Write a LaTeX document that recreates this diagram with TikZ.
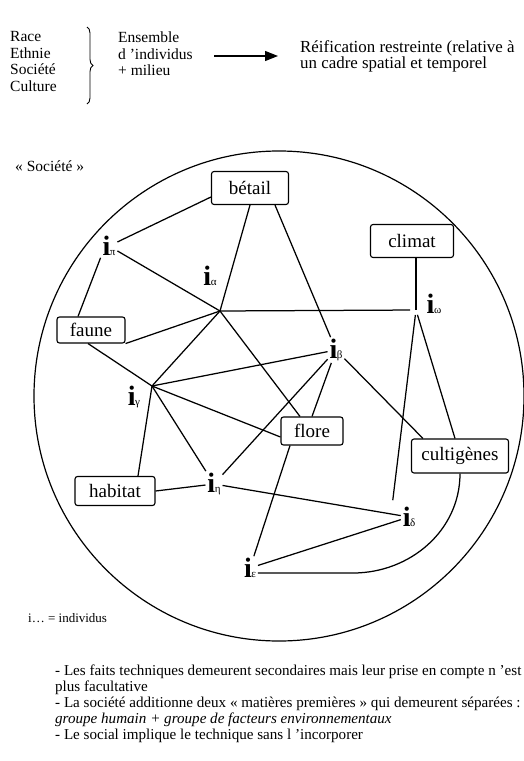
\documentclass[tikz,border=0pt]{standalone}
\usepackage{fontspec}
\setmainfont{Liberation Serif}
\usetikzlibrary{arrows.meta,decorations.pathreplacing,calc}
\newcommand\indiv[1]{{\fontsize{28}{28}\selectfont\bfseries i}\kern-0.5pt{\fontsize{11}{11}\selectfont #1}}
\begin{document}
\begin{tikzpicture}[x=1pt,y=-1pt,
  box/.style={draw, line width=1.1pt, rounded corners=2.5pt, inner sep=0pt, font=\fontsize{19}{19}\selectfont},
  ilab/.style={inner sep=0pt, outer sep=2pt},
  edge/.style={line width=1.25pt},
  txt/.style={inner sep=0pt, anchor=west, align=left}]
\useasboundingbox[fill=white] (0,0) rectangle (524,761);

% ---- header ----
\node[txt, anchor=north west, font=\fontsize{15.5}{16.8}\selectfont] (terms) at (10,31) {Race\\Ethnie\\Société\\Culture};
\coordinate (brtop) at (87,27);
\coordinate (brbot) at (87,104);
\draw[line width=0.9pt, decorate, decoration={brace, amplitude=6pt}] (brtop) -- (brbot);
\node[txt, anchor=north west, font=\fontsize{15.5}{16.5}\selectfont] (ens) at (118,32) {Ensemble\\d ’individus\\+ milieu};
\coordinate (ar1) at (214,56);
\coordinate (ar2) at (278,56);
\draw[line width=1.2pt, -{Triangle[length=13pt,width=10pt]}] (ar1) -- (ar2);
\node[txt, anchor=north west, font=\fontsize{16.9}{16.5}\selectfont] (reif) at (300,40) {Réification restreinte (relative à\\un cadre spatial et temporel};

% ---- society circle ----
\node[txt, font=\fontsize{15.5}{15.5}\selectfont] (soc) at (15,166) {« Société »};
\node[draw, circle, line width=1.2pt, minimum size=490pt, inner sep=0pt] (circ) at (279,396) {};

% boxes
\node[box, minimum width=77pt, minimum height=33pt] (bet) at (250,188) {bétail};
\node[box, minimum width=83pt, minimum height=33pt] (cli) at (412,241) {climat};
\node[box, minimum width=68pt, minimum height=26pt] (fau) at (91,330) {faune};
\node[box, minimum width=62pt, minimum height=28pt] (flo) at (312,431) {flore};
\node[box, minimum width=97pt, minimum height=34pt] (cul) at (460,456) {cultigènes};
\node[box, minimum width=80pt, minimum height=29pt] (hab) at (115,491) {habitat};

% individus labels
\node[ilab] (lpi) at (109,246) {\indiv{π}};
\node[ilab] (lal) at (210,276) {\indiv{α}};
\node[ilab] (lbe) at (336,350) {\indiv{β}};
\node[ilab] (lga) at (134,397) {\indiv{γ}};
\node[ilab] (let) at (214,484) {\indiv{η}};
\node[ilab] (lde) at (409,517) {\indiv{δ}};
\node[ilab] (lep) at (250,568) {\indiv{ε}};
\node[ilab] (lom) at (434,304) {\indiv{ω}};

% hubs
\coordinate (ha) at (220,311);
\coordinate (hg) at (152,386);
\coordinate (ho) at (416,310);

% connectors
\draw[edge] ([yshift=-9pt]bet.west) -- (lpi);
\draw[edge] (lpi) -- (ha);
\draw[edge] ([xshift=-13pt]fau.north) -- (lpi.south west);
\draw[edge] (bet.south) -- (ha);
\draw[edge] ([xshift=25pt]bet.south) -- (lbe);
\draw[edge] (fau.south east) -- (ha);
\draw[edge] ([xshift=-3pt]fau.south) -- (hg);
\draw[edge, shorten >=6pt] (ha) -- (ho);
\draw[edge] (ha) -- (hg);
\draw[edge] (ha) -- ([xshift=-12pt]flo.north);
\draw[edge] (hg) -- (lbe);
\draw[edge] (hg) -- ([yshift=-6pt]flo.west);
\draw[edge] (hg) -- (let);
\draw[edge] (hg) -- ([xshift=23pt]hab.north);
\draw[edge] (lbe) -- (let);
\draw[edge] (lbe) -- (flo.north);
\draw[edge] (lbe) -- ([xshift=12pt]cul.north west);
\draw[edge] (hab.east) -- (let);
\draw[edge] (let) -- (lde);
\draw[edge] ([xshift=-22pt]flo.south) -- (lep);
\draw[edge] (lde) -- (lep);
\draw[edge] ([yshift=-5pt]lep.east) -- ++(95,0) to[out=0,in=-90] (cul.south);
\draw[edge] ([xshift=4pt]cli.south) -- (ho);
\draw[edge, shorten <=5pt] (ho) -- ([xshift=-8pt,yshift=5pt]lde.north west);
\draw[edge, shorten <=5pt] (ho) -- ([xshift=-5pt]cul.north);

% legend and notes
\node[txt, font=\fontsize{13}{13}\selectfont] (leg) at (28,618) {i… = individus};
\node[txt, anchor=north west, font=\fontsize{15.1}{16}\selectfont] (notes) at (55,665) {%
- Les faits techniques demeurent secondaires mais leur prise en compte n ’est\\
plus facultative\\
- La société additionne deux « matières premières » qui demeurent séparées :\\
\textit{groupe humain + groupe de facteurs environnementaux}\\
- Le social implique le technique sans l ’incorporer};
\end{tikzpicture}
\end{document}
